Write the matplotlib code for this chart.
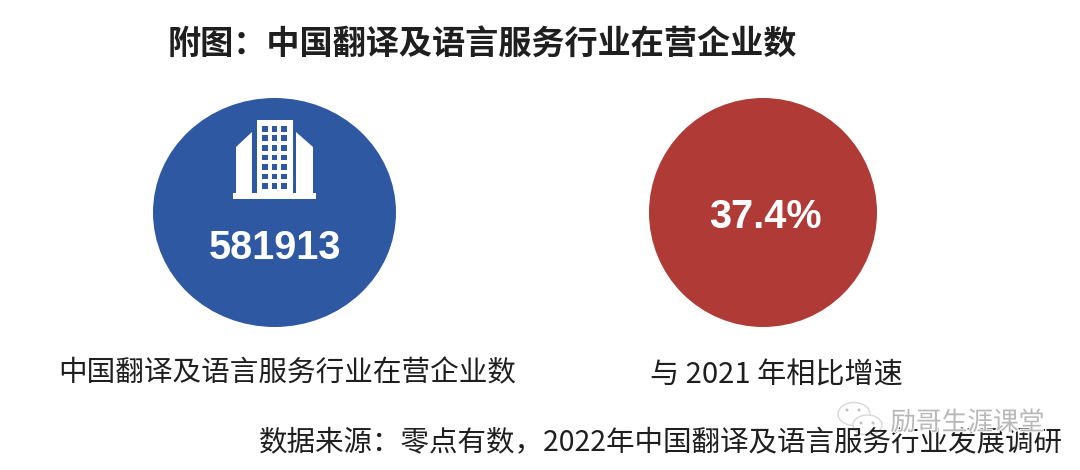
import matplotlib
matplotlib.use("Agg")
import matplotlib.pyplot as plt
from matplotlib.patches import Ellipse, Rectangle, Polygon
import matplotlib.patheffects as pe

plt.rcParams['font.family'] = ['Noto Sans CJK SC', 'DejaVu Sans']

title = "附图：中国翻译及语言服务行业在营企业数"
values = ["581913", "37.4%"]
captions = ["中国翻译及语言服务行业在营企业数", "与 2021 年相比增速"]
source = "数据来源：零点有数，2022年中国翻译及语言服务行业发展调研"
watermark = "励哥生涯课堂"

blue = "#2e58a2"
red = "#b03a36"
dark = "#1f1f1f"

fig = plt.figure(figsize=(10.8, 4.7), dpi=100)
ax = fig.add_axes([0, 0, 1, 1])
ax.set_xlim(0, 1080)
ax.set_ylim(470, 0)
ax.axis("off")

ax.text(482.5, 45, title, fontsize=23.9, fontweight="bold", color=dark, ha="center", va="center")

# the two circles
ax.add_patch(Ellipse((274.5, 212.5), 243, 229, color=blue, lw=0))
ax.add_patch(Ellipse((763, 212.5), 228, 229, color=red, lw=0))

# building icon
ax.add_patch(Rectangle((233, 193), 83, 5.5, color="white", lw=0))
ax.add_patch(Rectangle((257, 120), 36, 74, color="white", lw=0))
ax.add_patch(Polygon([(236, 147), (252, 132), (252, 194), (236, 194)], color="white", lw=0))
ax.add_patch(Polygon([(296, 132), (313, 147), (313, 194), (296, 194)], color="white", lw=0))
for wx in [265, 274.5, 283.7]:
    for row in range(7):
        wy = 128.7 + row * 9.55
        ax.add_patch(Rectangle((wx - 2.8, wy - 2.8), 5.6, 5.6, color=blue, lw=0))

ax.text(274.5, 248, values[0], fontsize=28.5, fontweight="bold", color="white", family="Liberation Sans",
        ha="center", va="center")
ax.text(765.5, 217, values[1], fontsize=28.5, fontweight="bold", color="white", family="Liberation Sans",
        ha="center", va="center")

ax.text(287.5, 373, captions[0], fontsize=20.6, color=dark, ha="center", va="center")
ax.text(776, 375, captions[1], fontsize=21, color=dark, ha="center", va="center")

ax.text(1063, 442, source, fontsize=20.55, color=dark, ha="right", va="center")

# watermark, sits over the source line
halo = [pe.withStroke(linewidth=1.5, foreground="white")]
ax.text(967.5, 423, watermark, fontsize=18.5, color="#b8b8b8", ha="center", va="center", path_effects=halo)
for cx, cy, w, h in [(854, 414, 32, 23), (867.5, 425, 29, 20)]:
    ax.add_patch(Ellipse((cx, cy), w, h, facecolor="white", edgecolor="#d8d8d8", lw=1))
for ex, ey in [(847, 410), (859, 410), (861, 423), (873, 423)]:
    ax.add_patch(Ellipse((ex, ey), 3, 3, facecolor="#c0c0c0", lw=0))

fig.savefig("out.png", dpi=100)
